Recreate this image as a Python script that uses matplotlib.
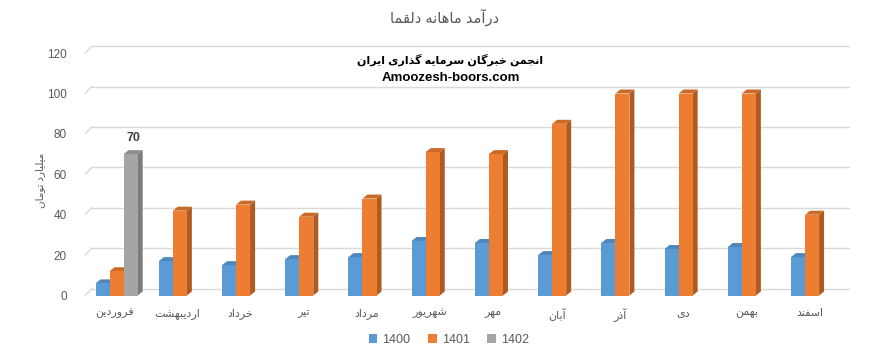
import matplotlib
matplotlib.use("Agg")
import matplotlib.pyplot as plt
from matplotlib.patches import Polygon, Patch

# --- data -------------------------------------------------------------------
months = ["فروردین", "اردیبهشت", "خرداد", "تیر", "مرداد", "شهریور",
          "مهر", "آبان", "آذر", "دی", "بهمن", "اسفند"]
series_names = ["1400", "1401", "1402"]
v1400 = [6, 17, 15, 18, 19, 27, 26, 20, 26, 23, 24, 19]
v1401 = [12, 42, 45, 39, 48, 71, 70, 85, 100, 100, 100, 40]
v1402 = [70, None, None, None, None, None, None, None, None, None, None, None]
yticks = [0, 20, 40, 60, 80, 100, 120]

title = "درآمد ماهانه دلقما"
ylabel = "میلیارد تومان"
brand_fa = "انجمن خبرگان سرمایه گذاری ایران"
brand_en = "Amoozesh-boors.com"

# --- tiny Persian shaper (matplotlib has no Arabic shaping / bidi) ----------
# letter: (isolated, final, initial, medial); two entries -> right-joining only
FORMS = {
    "ا": (0xFE8D, 0xFE8E), "آ": (0xFE81, 0xFE82), "د": (0xFEA9, 0xFEAA),
    "ذ": (0xFEAB, 0xFEAC), "ر": (0xFEAD, 0xFEAE), "ز": (0xFEAF, 0xFEB0),
    "و": (0xFEED, 0xFEEE),
    "ب": (0xFE8F, 0xFE90, 0xFE91, 0xFE92), "ت": (0xFE95, 0xFE96, 0xFE97, 0xFE98),
    "ج": (0xFE9D, 0xFE9E, 0xFE9F, 0xFEA0), "خ": (0xFEA5, 0xFEA6, 0xFEA7, 0xFEA8),
    "س": (0xFEB1, 0xFEB2, 0xFEB3, 0xFEB4), "ش": (0xFEB5, 0xFEB6, 0xFEB7, 0xFEB8),
    "ف": (0xFED1, 0xFED2, 0xFED3, 0xFED4), "ق": (0xFED5, 0xFED6, 0xFED7, 0xFED8),
    "ل": (0xFEDD, 0xFEDE, 0xFEDF, 0xFEE0), "م": (0xFEE1, 0xFEE2, 0xFEE3, 0xFEE4),
    "ن": (0xFEE5, 0xFEE6, 0xFEE7, 0xFEE8), "ه": (0xFEE9, 0xFEEA, 0xFEEB, 0xFEEC),
    "ی": (0xFBFC, 0xFBFD, 0xFBFE, 0xFBFF), "گ": (0xFB92, 0xFB93, 0xFB94, 0xFB95),
}


def shape(text):
    out = []
    for i, ch in enumerate(text):
        f = FORMS.get(ch)
        if f is None:
            out.append(ch)
            continue
        prev = text[i - 1] if i > 0 else ""
        nxt = text[i + 1] if i + 1 < len(text) else ""
        join_prev = prev in FORMS and len(FORMS[prev]) == 4
        join_next = len(f) == 4 and nxt in FORMS
        if join_prev and join_next:
            out.append(chr(f[3]))
        elif join_prev:
            out.append(chr(f[1]))
        elif join_next:
            out.append(chr(f[2]))
        else:
            out.append(chr(f[0]))
    return "".join(reversed(out))


# --- figure -----------------------------------------------------------------
plt.rcParams["font.family"] = ["Liberation Sans", "DejaVu Sans"]
W, H = 880, 357
fig = plt.figure(figsize=(W / 100, H / 100), dpi=100)

left_px, right_px, base_px, top_px = 85, 850, 295.5, 40
xmin, xmax = -0.5, 11.6
ymin, ymax = 0, (base_px - top_px) / 2.02
ax = fig.add_axes([left_px / W, (H - base_px) / H,
                   (right_px - left_px) / W, (base_px - top_px) / H])
ax.set_xlim(xmin, xmax)
ax.set_ylim(ymin, ymax)
for s in ax.spines.values():
    s.set_visible(False)

# pixel -> data unit conversions for the fake 3D depth
ux = (xmax - xmin) / (right_px - left_px)
uy = (ymax - ymin) / (base_px - top_px)
gdx, gdy = 7 * ux, 7 * uy      # back wall offset for gridlines
bdx, bdy = 5 * ux, 4 * uy      # bar depth

for v in yticks:
    ax.plot([xmin + gdx, xmax], [v + gdy, v + gdy], color="#d9d9d9", lw=1, zorder=0)
    ax.plot([xmin, xmin + gdx], [v, v + gdy], color="#d9d9d9", lw=1, zorder=0)

bw = 0.222
colors = ["#5B9BD5", "#ED7D31", "#A5A5A5"]
sides = ["#41719C", "#AE5A21", "#7C7C7C"]
tops = ["#4F87BA", "#C96A28", "#8E8E8E"]
for k, vals in enumerate([v1400, v1401, v1402]):
    for i, v in enumerate(vals):
        if v is None:
            continue
        x = i + (k - 1) * bw
        z = 2 + k
        ax.bar(x, v, width=bw, color=colors[k], zorder=z + 0.2, linewidth=0)
        xr, xl = x + bw / 2, x - bw / 2
        ax.add_patch(Polygon([(xr, 0), (xr + bdx, bdy), (xr + bdx, v + bdy), (xr, v)],
                             closed=True, facecolor=sides[k], edgecolor="none", zorder=z))
        ax.add_patch(Polygon([(xl, v), (xl + bdx, v + bdy), (xr + bdx, v + bdy), (xr, v)],
                             closed=True, facecolor=tops[k], edgecolor="none", zorder=z))
        if k == 2:
            ax.text(x + bdx / 2, v + bdy + 3, f"{v}", ha="center", va="bottom",
                    fontsize=9, fontweight="bold", color="#404040")

ax.set_yticks(yticks)
ax.set_yticklabels([str(t) for t in yticks])
ax.set_xticks([i - 0.04 for i in range(len(months))])
ax.set_xticklabels([shape(m) for m in months])
ax.tick_params(axis="both", length=0, colors="#595959", labelsize=8.5)
ax.tick_params(axis="x", labelsize=8)
ax.tick_params(axis="y", pad=13)
ax.tick_params(axis="x", pad=9)

fig.text(0.045, 0.495, shape(ylabel), rotation=90, ha="center", va="center",
         fontsize=7.5, color="#595959")
fig.text(0.505, 1 - 17 / H, shape(title), ha="center", va="center",
         fontsize=10.5, color="#595959")
fig.text(0.512, 1 - 60 / H, shape(brand_fa), ha="center", va="center",
         fontsize=8, fontweight="bold", color="black")
fig.text(0.512, 1 - 78 / H, brand_en, ha="center", va="center",
         fontsize=9.5, fontweight="bold", color="black")

handles = [Patch(facecolor=c, label=n) for c, n in zip(colors, series_names)]
fig.legend(handles=handles, loc="center", bbox_to_anchor=(0.51, 17 / H), ncol=3,
           frameon=False, fontsize=9, labelcolor="#595959", handlelength=0.7,
           handleheight=0.7, handletextpad=0.4, columnspacing=1.4)

fig.savefig("out.png", dpi=100)
